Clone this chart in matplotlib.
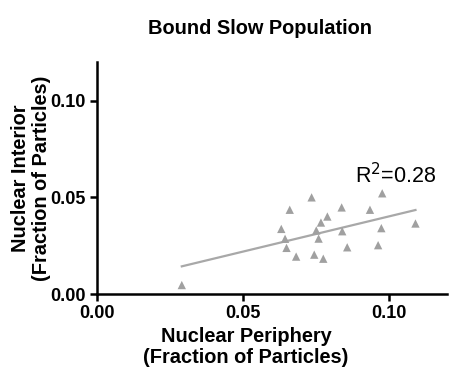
import numpy as np
import matplotlib
matplotlib.use("Agg")
import matplotlib.pyplot as plt

plt.rcParams["font.family"] = ["Liberation Sans", "DejaVu Sans"]

# 数据：核周边 vs 核内部的粒子比例
periphery = [0.0291, 0.0632, 0.0661, 0.0645, 0.0650, 0.0683, 0.0736, 0.0745,
             0.0752, 0.0760, 0.0768, 0.0776, 0.0790, 0.0839, 0.0841, 0.0858,
             0.0936, 0.0964, 0.0975, 0.0978, 0.1092]
interior = [0.0047, 0.0337, 0.0436, 0.0286, 0.0239, 0.0194, 0.0500, 0.0204,
            0.0329, 0.0287, 0.0370, 0.0183, 0.0401, 0.0448, 0.0325, 0.0242,
            0.0436, 0.0253, 0.0341, 0.0521, 0.0365]
r2_text = "0.28"
x_ticks = [0.00, 0.05, 0.10]
y_ticks = [0.00, 0.05, 0.10]

x = np.array(periphery)
y = np.array(interior)
slope, intercept = np.polyfit(x, y, 1)
x_fit = np.array([x.min(), x.max()])

fig = plt.figure(figsize=(4.75, 3.82), dpi=100)
ax = fig.add_axes([0.204, 0.230, 0.737, 0.608])

ax.plot(x_fit, slope * x_fit + intercept, color="#a8a8a8", linewidth=1.6, zorder=2)
ax.scatter(x, y, marker="^", s=36, color="#a0a0a0", edgecolors="none", zorder=3)

ax.set_xlim(0, 0.12)
ax.set_ylim(0, 0.12)
ax.set_xticks(x_ticks)
ax.set_yticks(y_ticks)
ax.set_xticklabels([f"{v:.2f}" for v in x_ticks], fontweight="bold", fontsize=13)
ax.set_yticklabels([f"{v:.2f}" for v in y_ticks], fontweight="bold", fontsize=13)

for side in ["top", "right"]:
    ax.spines[side].set_visible(False)
for side in ["left", "bottom"]:
    ax.spines[side].set_linewidth(1.8)
ax.tick_params(direction="out", length=5, width=1.8, pad=3)

ax.text(0.0885, 0.0615, r"R$^2$=" + r2_text, fontsize=15.5, ha="left", va="center")

fig.text(260 / 475, 1 - 28 / 382, "Bound Slow Population", fontsize=14.4,
         fontweight="bold", ha="center", va="center")
fig.text(246 / 475, 1 - 347 / 382, "Nuclear Periphery\n(Fraction of Particles)",
         fontsize=14.4, fontweight="bold", ha="center", va="center", linespacing=1.12)
fig.text(31 / 475, 1 - 178 / 382, "Nuclear Interior\n(Fraction of Particles)",
         fontsize=14.4, fontweight="bold", ha="center", va="center", rotation=90,
         linespacing=1.12)

fig.savefig("out.png", dpi=100)
